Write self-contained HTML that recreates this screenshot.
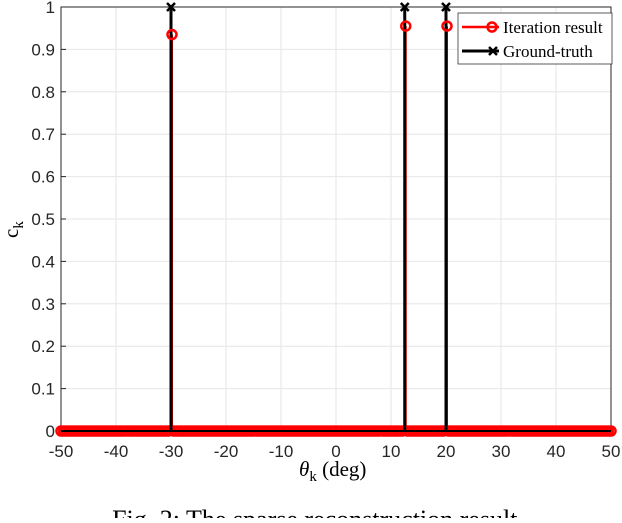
<!DOCTYPE html>
<html><head><meta charset="utf-8"><style>
body{margin:0;background:#fff;width:622px;height:518px;overflow:hidden}
svg text{font-family:"Liberation Sans",sans-serif}
</style></head><body>
<svg id="chart" width="622" height="518" viewBox="0 0 622 518" xmlns="http://www.w3.org/2000/svg">
<g id="grid"></g>
<g id="axes"></g>
<g id="series"></g>
<g>
<rect x="458" y="13" width="154" height="51" fill="#fff" stroke="#333" stroke-width="0.8"/>
<g>
<line x1="462" y1="27" x2="499" y2="27" stroke="#f00" stroke-width="2.5"/>
<circle cx="492" cy="27" r="4.5" fill="none" stroke="#f00" stroke-width="2.5"/>
<text x="503" y="33" font-size="17" style="font-family:'Liberation Serif',serif">Iteration result</text></g>
<g>
<line x1="462" y1="51" x2="499" y2="51" stroke="#000" stroke-width="3"/>
<path d="M489,47L497,55M497,47L489,55" stroke="#000" stroke-width="2.5"/>
<text x="503" y="57" font-size="17" style="font-family:'Liberation Serif',serif">Ground-truth</text></g>
</g>
<text transform="translate(18,238) rotate(-90)" font-size="21" style="font-family:'Liberation Serif',serif">c<tspan font-size="15" dy="5">k</tspan></text>
<text x="299" y="476" font-size="21" style="font-family:'Liberation Serif',serif"><tspan font-style="italic">θ</tspan><tspan font-size="15" dy="5">k</tspan><tspan dy="-5"> (deg)</tspan></text>
<text x="318" y="528" font-size="26" text-anchor="middle" style="font-family:'Liberation Serif',serif">Fig. 2: The sparse reconstruction result.</text>
</svg>
<script>
const xTicks=[-50,-40,-30,-20,-10,0,10,20,30,40,50];
const yTicks=[0,0.1,0.2,0.3,0.4,0.5,0.6,0.7,0.8,0.9,1];
const yTickLabels=["0","0.1","0.2","0.3","0.4","0.5","0.6","0.7","0.8","0.9","1"];
const truthAngles=[-30,12.5,20];
const truthValues=[1,1,1];
const estAngles=[-30,12.5,20];
const estValues=[0.935,0.955,0.955];
const gridStep=0.5;
const X0=61,X1=611,Y0=431,Y1=7;
const sx=v=>X0+(v+50)/100*(X1-X0);
const sy=v=>Y0-v*(Y0-Y1);
const NS="http://www.w3.org/2000/svg";
function mk(t,a,p){const e=document.createElementNS(NS,t);for(const k in a)e.setAttribute(k,a[k]);p.appendChild(e);return e;}
const grid=document.getElementById('grid'),axes=document.getElementById('axes'),ser=document.getElementById('series');
xTicks.forEach(v=>{const l=mk('line',{x1:sx(v),x2:sx(v),y1:Y1,y2:Y0,stroke:'#e6e6e6','stroke-width':1},grid);

const t=mk('text',{x:sx(v),y:Y0+26,'font-size':17,'text-anchor':'middle',fill:'#262626'},axes);t.textContent=v;

mk('line',{x1:sx(v),x2:sx(v),y1:Y0,y2:Y0-5,stroke:'#262626'},axes);});
yTicks.forEach((v,i)=>{const l=mk('line',{x1:X0,x2:X1,y1:sy(v),y2:sy(v),stroke:'#e6e6e6','stroke-width':1},grid);

const t=mk('text',{x:X0-6,y:sy(v)+6,'font-size':17,'text-anchor':'end',fill:'#262626'},axes);t.textContent=yTickLabels[i];

mk('line',{x1:X0,x2:X0+5,y1:sy(v),y2:sy(v),stroke:'#262626'},axes);});
const bx=mk('path',{d:`M${X0},${Y1}V${Y0}H${X1}V${Y1}Z`,fill:'none',stroke:'#262626','stroke-width':1},axes);

const zl=mk('line',{x1:sx(-50),x2:sx(50),y1:sy(0),y2:sy(0),stroke:'#f00','stroke-width':2},ser);

for(let a=-50;a<=50.001;a+=gridStep){if(estAngles.some(e=>Math.abs(e-a)<1e-6))continue;
const c=mk('circle',{cx:sx(a),cy:sy(0),r:4.5,fill:'none',stroke:'#f00','stroke-width':2.5},ser);
}
estAngles.forEach((a,i)=>{const l=mk('line',{x1:sx(a)+1,x2:sx(a)+1,y1:sy(0),y2:sy(estValues[i]),stroke:'#f00','stroke-width':2},ser);
});
truthAngles.forEach((a,i)=>{const l=mk('line',{x1:sx(a),x2:sx(a),y1:sy(0),y2:sy(truthValues[i]),stroke:'#000','stroke-width':3},ser);

const x=sx(a),y=sy(truthValues[i]);
const m=mk('path',{d:`M${x-4},${y-4}L${x+4},${y+4}M${x+4},${y-4}L${x-4},${y+4}`,stroke:'#000','stroke-width':2.5},ser);
});
estAngles.forEach((a,i)=>{const c=mk('circle',{cx:sx(a)+1,cy:sy(estValues[i]),r:4.5,fill:'none',stroke:'#f00','stroke-width':2.5},ser);
});
const zb=mk('line',{x1:sx(-50),x2:sx(50),y1:sy(0),y2:sy(0),stroke:'#000','stroke-width':2},ser);

</script>
</body></html>
